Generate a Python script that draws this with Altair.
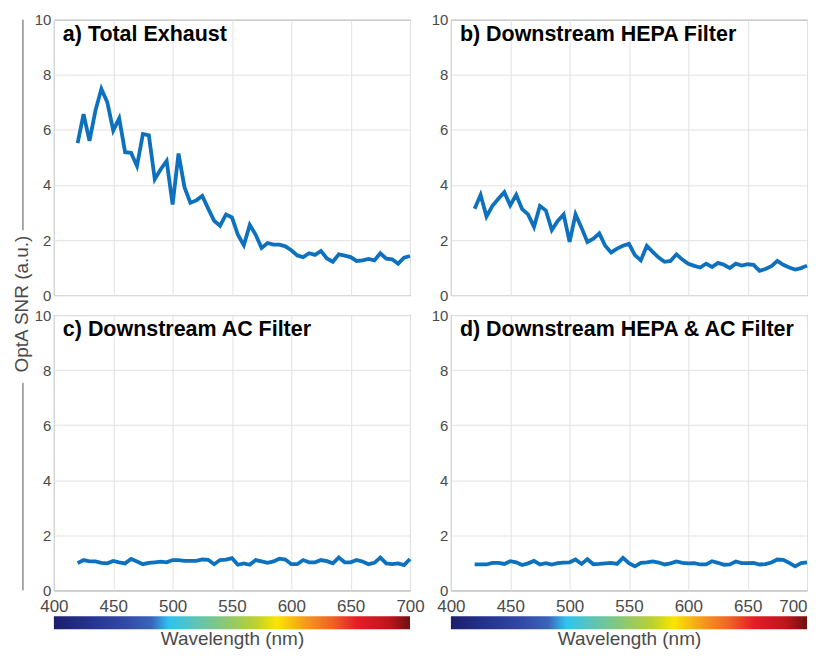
import altair as alt
import pandas as pd

wavelength = [420, 425, 430, 435, 440, 445, 450, 455, 460, 465, 470, 475, 480, 485, 490,
              495, 500, 505, 510, 515, 520, 525, 530, 535, 540, 545, 550, 555, 560, 565,
              570, 575, 580, 585, 590, 595, 600, 605, 610, 615, 620, 625, 630, 635, 640,
              645, 650, 655, 660, 665, 670, 675, 680, 685, 690, 695, 700]

snr_total = [5.52, 6.57, 5.60, 6.70, 7.49, 7.00, 5.98, 6.42, 5.19, 5.17, 4.69, 5.85, 5.80, 4.21, 4.57,
             4.87, 3.29, 5.14, 3.92, 3.35, 3.44, 3.60, 3.14, 2.70, 2.52, 2.93, 2.82, 2.19, 1.81, 2.55,
             2.19, 1.71, 1.89, 1.83, 1.83, 1.77, 1.63, 1.44, 1.38, 1.52, 1.46, 1.60, 1.33, 1.21, 1.48,
             1.43, 1.38, 1.24, 1.26, 1.31, 1.26, 1.52, 1.32, 1.30, 1.14, 1.36, 1.42]

snr_hepa = [3.14, 3.64, 2.85, 3.24, 3.50, 3.74, 3.26, 3.64, 3.12, 2.93, 2.48, 3.24, 3.07, 2.36, 2.69,
            2.93, 1.93, 2.93, 2.45, 1.93, 2.05, 2.24, 1.79, 1.55, 1.69, 1.79, 1.86, 1.45, 1.26, 1.79,
            1.57, 1.36, 1.21, 1.24, 1.48, 1.29, 1.14, 1.06, 1.00, 1.14, 1.02, 1.17, 1.10, 0.98, 1.14,
            1.07, 1.12, 1.10, 0.88, 0.95, 1.05, 1.24, 1.10, 1.00, 0.93, 0.98, 1.07]

snr_ac = [0.99, 1.10, 1.05, 1.05, 1.00, 0.98, 1.07, 1.02, 0.98, 1.14, 1.05, 0.95, 1.00, 1.02, 1.04,
          1.02, 1.10, 1.10, 1.07, 1.07, 1.07, 1.12, 1.11, 0.95, 1.10, 1.12, 1.17, 0.93, 0.98, 0.93,
          1.10, 1.05, 1.00, 1.05, 1.15, 1.12, 0.95, 0.95, 1.10, 1.02, 1.02, 1.10, 1.06, 0.98, 1.19,
          1.02, 1.02, 1.10, 1.05, 0.95, 1.00, 1.19, 0.98, 0.95, 0.98, 0.92, 1.14]

snr_hepa_ac = [0.94, 0.94, 0.94, 1.00, 1.00, 0.96, 1.06, 1.02, 0.92, 0.98, 1.07, 0.94, 0.99, 0.94, 0.99,
               1.01, 1.02, 1.12, 0.96, 1.13, 0.95, 0.96, 0.98, 1.00, 0.96, 1.18, 0.99, 0.87, 1.00, 1.02,
               1.05, 1.01, 0.94, 0.98, 1.05, 1.00, 0.98, 0.99, 0.94, 0.94, 1.06, 1.00, 0.93, 0.94, 1.05,
               0.99, 0.99, 1.00, 0.94, 0.95, 1.01, 1.12, 1.11, 1.00, 0.87, 0.99, 1.02]

titles = ["a) Total Exhaust", "b) Downstream HEPA Filter",
          "c) Downstream AC Filter", "d) Downstream HEPA & AC Filter"]
x_ticks = [400, 450, 500, 550, 600, 650, 700]
y_ticks = [0, 2, 4, 6, 8, 10]
x_title = "Wavelength (nm)"
y_title = "OptA SNR (a.u.)"

# colour bar (wavelength -> colour), a gradient spanning 400-700 nm
cbar_range = [400, 700]
cbar_stops = [400, 430, 460, 482, 497, 520, 545, 570, 588, 612, 635, 655, 682, 700]
cbar_colors = ["#1b1f6c", "#25338e", "#3249a5", "#3b63bb", "#2fc3ef", "#5fc4b4", "#8cc873",
               "#bcd031", "#fbe500", "#f39a1f", "#ee6224", "#e31e28", "#bd161d", "#6f1010"]

W, H = 357, 276
LINE = "#0E71BD"
FONT = "Liberation Sans"
GRAY = "#4a4a4a"
GRID = "#e2e2e2"

gradient = alt.Gradient(
    gradient="linear", x1=0, x2=1, y1=0, y2=0,
    stops=[alt.GradientStop(offset=(s - 400) / 300.0, color=c)
           for s, c in zip(cbar_stops, cbar_colors)],
)


def panel(values, title, bottom, ylabel_part=None, last=False):
    df = pd.DataFrame({"wl": wavelength, "snr": values})
    if bottom:
        align = {"condition": {"test": "datum.value == 700", "value": "right"}, "value": "center"} \
            if last else "center"
        xaxis = alt.Axis(values=x_ticks, grid=True, gridColor=GRID, domain=False, ticks=False,
                         labelFontSize=17, labelColor=GRAY, labelPadding=8, labelFlush=False,
                         labelAlign=align,
                         labelFont=FONT, title=x_title, titleFont=FONT, titleFontSize=19,
                         titleFontWeight="normal", titleColor=GRAY, titlePadding=15)
    else:
        xaxis = alt.Axis(values=x_ticks, grid=True, gridColor=GRID, domain=False, ticks=False,
                         labels=False, title="")
    yaxis = alt.Axis(values=y_ticks, grid=True, gridColor=GRID, domain=False, ticks=False,
                     labelFontSize=15, labelColor=GRAY, labelPadding=3, labelFont=FONT, title="")
    xs = alt.Scale(domain=[400, 700], nice=False, zero=False)
    ys = alt.Scale(domain=[0, 10], nice=False)

    line = alt.Chart(df).mark_line(color=LINE, strokeWidth=3.8).encode(
        x=alt.X("wl:Q", scale=xs, axis=xaxis),
        y=alt.Y("snr:Q", scale=ys, axis=yaxis),
    )
    ttl = alt.Chart(pd.DataFrame({"t": [title]})).mark_text(
        align="left", baseline="alphabetic", fontSize=21.5, fontWeight="bold",
        font=FONT, color="#000000"
    ).encode(x=alt.value(9), y=alt.value(21), text="t:N")
    layers = [line, ttl]

    if bottom:
        cb = pd.DataFrame({"wl": [cbar_range[0]], "wl2": [cbar_range[1]]})
        cbar = alt.Chart(cb).mark_rect(fill=gradient, strokeWidth=0, opacity=1).encode(
            x=alt.X("wl:Q", scale=xs, axis=xaxis),
            x2="wl2:Q",
            y=alt.value(302),
            y2=alt.value(315),
        )
        layers.insert(0, cbar)

    one = pd.DataFrame({"t": [y_title]})
    if ylabel_part == "top":
        layers.append(alt.Chart(one).mark_rule(color="#555555", strokeWidth=1).encode(
            x=alt.value(-31), y=alt.value(0), y2=alt.value(211)))
    elif ylabel_part == "bottom":
        layers.append(alt.Chart(one).mark_rule(color="#555555", strokeWidth=1).encode(
            x=alt.value(-31), y=alt.value(68), y2=alt.value(H)))
        layers.append(alt.Chart(one).mark_text(
            angle=270, align="center", baseline="middle", fontSize=19, font=FONT, color=GRAY
        ).encode(x=alt.value(-32), y=alt.value(-11), text="t:N"))

    return alt.layer(*layers).properties(width=W, height=H)


pa = panel(snr_total, titles[0], False, "top")
pb = panel(snr_hepa, titles[1], False)
pc = panel(snr_ac, titles[2], True, "bottom")
pd_ = panel(snr_hepa_ac, titles[3], True, last=True)

chart = alt.concat(pa, pb, pc, pd_, columns=2, bounds="flush",
                   spacing={"row": 20, "column": 41}).properties(
    padding={"left": 4, "top": 3, "right": 0, "bottom": 0}
).configure_view(stroke="#6e6e6e", strokeWidth=1)

chart.save("out.html", embed_options={"renderer": "svg", "actions": False})
